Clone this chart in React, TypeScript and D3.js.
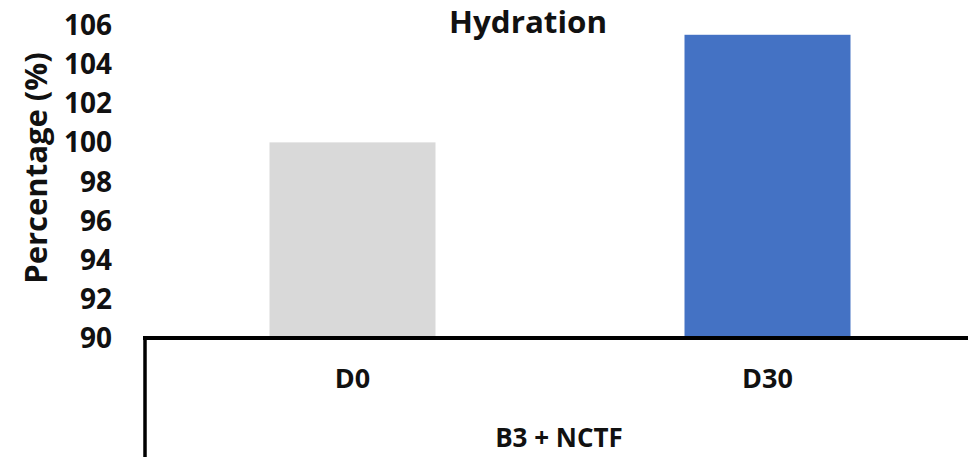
import React from "react";
import * as d3 from "d3";

const categories = ["D0", "D30"];
const values = [100, 105.5];
const colors = ["#d9d9d9", "#4472c4"];
const yTicks = [90, 92, 94, 96, 98, 100, 102, 104, 106];
const title = "Hydration";
const yTitle = "Percentage (%)";
const groupLabel = "B3 + NCTF";

export default function App() {
  const W = 968, H = 457;
  const font = "'Open Sans', 'Noto Sans', sans-serif";
  const x = d3.scaleBand<string>().domain(categories).range([145, 975]).paddingInner(0.6).paddingOuter(0.3);
  const y = d3.scaleLinear().domain([90, 106]).range([338, 25]);
  return (
    <svg width={W} height={H} style={{ position: "absolute", left: 0, top: 0, background: "#fff" }} fontFamily={font}>
      <rect x={0} y={0} width={W} height={H} fill="#fff" />
      {categories.map((c, i) => (
        <rect key={c} x={x(c)} y={y(values[i])} width={x.bandwidth()} height={y(90) - y(values[i])} fill={colors[i]} />
      ))}
      {yTicks.map((t) => (
        <text key={t} x={112} y={y(t)} dy="0.36em" textAnchor="end" fontSize={28} fontWeight="bold" fill="#111">{t}</text>
      ))}
      <line x1={143} x2={W} y1={338} y2={338} stroke="#000" strokeWidth={4} />
      <line x1={145} x2={145} y1={336} y2={H} stroke="#000" strokeWidth={3.5} />
      {categories.map((c) => (
        <text key={c} x={(x(c) as number) + x.bandwidth() / 2} y={388} textAnchor="middle" fontSize={27} fontWeight="bold" fill="#111">{c}</text>
      ))}
      <text x={559} y={447} textAnchor="middle" fontSize={26} fontWeight="bold" fill="#111">{groupLabel}</text>
      <text x={528} y={33} textAnchor="middle" fontSize={30} fontWeight="bold" fill="#111" textLength={158} lengthAdjust="spacingAndGlyphs">{title}</text>
      <text transform="translate(47,168) rotate(-90)" textAnchor="middle" fontSize={31} fontWeight="bold" fill="#111">{yTitle}</text>
    </svg>
  );
}
